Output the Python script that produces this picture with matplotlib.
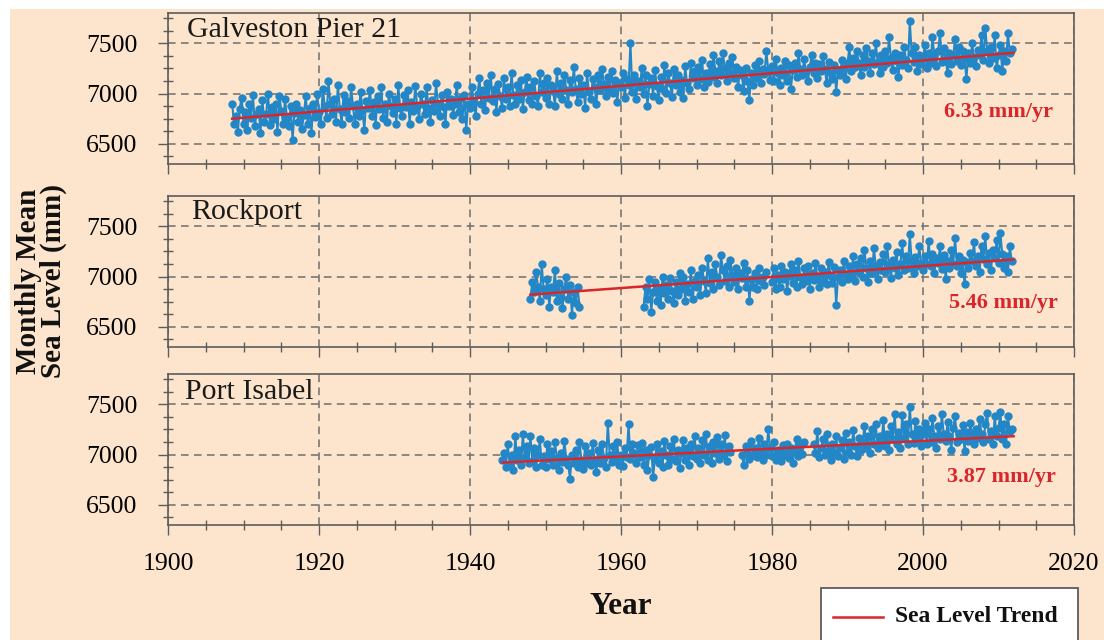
import matplotlib
matplotlib.use("Agg")
import matplotlib.pyplot as plt
from matplotlib.ticker import MultipleLocator
from matplotlib.patches import Rectangle
from matplotlib.lines import Line2D
import numpy as np

plt.rcParams['font.family'] = ['Liberation Serif', 'DejaVu Serif']

# monthly mean sea level (mm) at quarter-year steps
galv_start = 1908.5
galv_sl = [
    6900, 6700,
    6780, 6620, 6850, 6960,
    6700, 6820, 6640, 6900, 6760, 6990, 6680, 6800,
    6850, 6610, 6940, 6720, 6800, 7000, 6690, 6870,
    6750, 6900, 6620, 6980, 6830, 6700, 6950, 6760,
    6680, 6880, 6540, 6810, 6900, 6720, 6840, 6650,
    6790, 6980, 6700, 6860, 6610, 6900, 6770, 7000,
    6820, 6700, 7050, 6880, 6760, 7120, 6900, 6800,
    6950, 6720, 7080, 6850, 6700, 6990, 6820, 6930,
    6760, 7060, 6880, 6700, 6900, 6780, 7020, 6840,
    6640, 6930, 6860, 7040, 6780, 6920, 6690, 6980,
    6850, 7060, 6760, 6900, 6720, 7000, 6880, 6810,
    6950, 6700, 7080, 6860, 6780, 6990, 6870, 7040,
    6700, 6920, 6830, 7070, 6880, 6750, 7000, 6900,
    6800, 7060, 6860, 6720, 6940, 6830, 7100, 6900,
    6780, 6990, 6870, 6700, 7020, 6880, 6950, 6790,
    6900, 7080, 6820, 6960, 6750, 6990, 6640, 6900,
    6860, 7060, 6920, 6780, 7000, 7150, 6900, 7040,
    6840, 7100, 6960, 7180, 6930, 7050, 6820, 7090,
    6980, 6860, 7150, 6950, 7060, 6880, 7200, 6990,
    6900, 7080, 6950, 7130, 6850, 7020, 7160, 6940,
    7060, 6900, 7120, 6980, 6880, 7200, 7020, 7100,
    6960, 7150, 6900, 7080, 7030, 6880, 7220, 7000,
    7100, 6950, 7180, 7040, 6900, 7130, 7020, 7260,
    7050, 6920, 7150, 7000, 7080, 6860, 7200, 7020,
    6950, 7140, 7060, 6900, 7180, 7040, 7240, 7090,
    6980, 7160, 7040, 7220, 7010, 7130, 6920, 7100,
    7060, 7200, 6960, 7140, 7080, 7500, 7020, 7180,
    6950, 7120, 7060, 7250, 7000, 7180, 6880, 7090,
    7150, 6980, 7230, 7070, 6940, 7160, 7050, 7280,
    7010, 7200, 7100, 6970, 7240, 7080, 7180, 7020,
    7130, 6960, 7270, 7100, 7050, 7300, 7150, 7220,
    7080, 7260, 7140, 7330, 7060, 7200, 7110, 7290,
    7160, 7380, 7220, 7100, 7320, 7180, 7400, 7250,
    7120, 7300, 7200, 7360, 7150, 7260, 7060, 7230,
    7180, 7030, 7250, 7120, 6940, 7200, 7080, 7280,
    7150, 7320, 7100, 7240, 7190, 7420, 7230, 7130,
    7270, 7120, 7340, 7200, 7080, 7250, 7180, 7320,
    7120, 7280, 7050, 7230, 7300, 7160, 7400, 7240,
    7180, 7340, 7220, 7120, 7260, 7380, 7200, 7300,
    7150, 7290, 7220, 7370, 7240, 7100, 7310, 7200,
    7140, 7280, 7020, 7230, 7180, 7330, 7250, 7140,
    7300, 7460, 7220, 7350, 7260, 7420, 7300, 7180,
    7380, 7260, 7450, 7320, 7200, 7400, 7290, 7500,
    7310, 7200, 7380, 7260, 7420, 7300, 7560, 7350,
    7230, 7400, 7320, 7160, 7380, 7280, 7460, 7330,
    7250, 7720, 7400, 7310, 7460, 7220, 7380, 7290,
    7350, 7480, 7250, 7400, 7300, 7560, 7380, 7270,
    7420, 7600, 7310, 7450, 7340, 7200, 7400, 7290,
    7380, 7540, 7320, 7460, 7280, 7420, 7350, 7140,
    7400, 7300, 7500, 7360, 7270, 7430, 7380, 7580,
    7330, 7650, 7420, 7300, 7460, 7350, 7580, 7250,
    7380, 7480, 7220, 7420, 7320, 7600, 7400, 7440,
]

rock1_start = 1948.0
rock1_sl = [
    6780, 6950, 6850, 7050, 6900, 6760, 7120, 6880,
    6820, 6980, 6700, 6900, 6850, 7060, 6760, 6940,
    6800, 6690, 6880, 7000, 6780, 6920, 6620, 6850,
    6740, 6900, 6700,
]

rock2_start = 1963.0
rock2_sl = [
    6700, 6900, 6780, 6980, 6650, 6850, 6950, 6760,
    6880, 6720, 7000, 6840, 6920, 6780, 6990, 6860,
    6740, 6950, 6820, 7040, 6880, 7000, 6760, 6930,
    6850, 7060, 6780, 6960, 6900, 7020, 6820, 7080,
    6960, 6840, 7180, 6940, 7050, 6880, 7120, 7000,
    6920, 7210, 7060, 6960, 7100, 6900, 7160, 7020,
    6950, 7080, 6880, 7040, 6990, 7130, 6900, 7060,
    6760, 6980, 6900, 7040, 6880, 7080, 6960, 7000,
    6920, 7050,
]

rock3_start = 1980.0
rock3_sl = [
    6950, 7080, 6880, 7020, 6900, 7100, 6980, 7050,
    6860, 7010, 7120, 6940, 7060, 6900, 7150, 7000,
    6930, 7080, 6960, 7100, 6880, 7040, 6970, 7130,
    7000, 6900, 7080, 6950, 7050, 6930, 7140, 7010,
    6940, 7090, 6720, 7000, 7060, 6950, 7150, 7020,
    6980, 7100, 7020, 7200, 6960, 7120, 7050, 7180,
    7000, 7260, 7080, 6950, 7150, 7040, 7280, 7100,
    6980, 7140, 7060, 7220, 7050, 7300, 7120, 6990,
    7160, 7080, 7240, 7020, 7120, 7330, 7060, 7200,
    7080, 7420, 7150, 7040, 7190, 7100, 7300, 7130,
    7060, 7200, 7120, 7350, 7100, 7220, 7040, 7180,
    7130, 7300, 7070, 7210, 6980, 7150, 7080, 7260,
    7120, 7380, 7100, 7200, 7040, 7160, 6930, 7140,
    7080, 7230, 7150, 7340, 7100, 7200, 7050, 7300,
    7170, 7400, 7120, 7230, 7060, 7260, 7180, 7360,
    7130, 7430, 7220, 7080, 7200, 7050, 7300, 7150,
]

pi1_start = 1944.25
pi1_sl = [
    6950, 7020, 6880,
    7100, 6900, 7000, 6850, 7180, 6950, 7050, 6900,
    7200, 6980, 7080, 6920, 7180, 6940, 7060, 6880,
    7000, 7150, 6900, 6990, 6880, 7100, 6960, 7040,
    6900, 7120, 6970, 6850, 7020, 6930, 7130, 6960,
    6900, 6760, 7000, 6920, 7050, 6880, 7120, 6950,
    6860, 7080, 6920, 7020, 6900, 7110, 6950, 6830,
    7050, 6920, 7100, 6970, 6880, 7310, 7000, 6930,
    7080, 6950, 7120, 6900, 7000, 6890, 7060, 6980,
    7300, 6960, 7100, 7020, 6920, 7090, 6980, 7110,
    6900, 7050, 6850, 7000, 7070, 6780, 6960, 7100,
    6920, 7040, 6880, 7130, 7000, 6900, 7080, 6960,
    7150, 6940, 7050, 6870, 7020, 7140, 6950, 7060,
    6900, 7100, 6990, 7180, 6960, 7060, 6920, 7140,
    7000, 7200, 6950, 7080, 6920, 7120, 7020, 7170,
    6960, 7100, 7000, 7190, 6940, 7080, 7030,
]

pi2_start = 1976.0
pi2_sl = [
    7000, 6900, 7080, 7020, 6960, 7130, 7000, 7060,
    6980, 7160, 7040, 6950, 7100, 7000, 7250, 7060,
    6990, 7120, 6950, 7050, 7010, 6940, 7090, 7000,
    7100, 6970, 7060, 6920, 7040, 7150, 6990, 7080,
    7010, 7120,
]

pi3_start = 1985.5
pi3_sl = [
    7100, 7020,
    7230, 6980, 7060, 7150, 7000, 7200, 7050, 6950,
    7100, 7020, 7180, 6990, 7060, 7140, 6960, 7210,
    7030, 7120, 7000, 7240, 7080, 6990, 7160, 7050,
    7120, 7280, 7060, 7180, 7020, 7250, 7100, 7300,
    7060, 7180, 7120, 7340, 7080, 7200, 7050, 7280,
    7150, 7400, 7100, 7220, 7060, 7390, 7160, 7300,
    7100, 7470, 7200, 7110, 7330, 7150, 7250, 7080,
    7200, 7310, 7100, 7250, 7120, 7360, 7180, 7060,
    7280, 7150, 7400, 7200, 7130, 7320, 7180, 7050,
    7260, 7380, 7120, 7210, 7150, 7290, 7040, 7220,
    7130, 7310, 7200, 7100, 7250, 7160, 7350, 7200,
    7120, 7300, 7410, 7150, 7230, 7100, 7380, 7180,
    7260, 7420, 7150, 7300, 7100, 7380, 7230, 7250,
]

# linear trends (year, mm)
galv_trend_x = [1908.5, 2012.0]
galv_trend_y = [6750, 7405]
rock_trend_x = [1948.0, 2012.0]
rock_trend_y = [6820, 7170]
pi_trend_x = [1944.3, 2012.0]
pi_trend_y = [6920, 7182]

stations = ["Galveston Pier 21", "Rockport", "Port Isabel"]
rates = ["6.33 mm/yr", "5.46 mm/yr", "3.87 mm/yr"]

BG = '#fce5cc'
BLUE = '#2386c6'
RED = '#d9262a'
FRAME = '#5c5c5c'
GRID = '#6e6e6e'

fig = plt.figure(figsize=(11.04, 6.4), dpi=100, facecolor='white')
fig.add_artist(Rectangle((10 / 1104, 0), 1 - 10 / 1104, 1 - 9 / 640,
                         transform=fig.transFigure, facecolor=BG,
                         edgecolor='none', zorder=-10))

W, H = 1104, 640
left, right = 168, 1074
tops = [13, 196, 374]
ph = 151

segments = [
    [(galv_start, galv_sl)],
    [(rock1_start, rock1_sl), (rock2_start, rock2_sl), (rock3_start, rock3_sl)],
    [(pi1_start, pi1_sl), (pi2_start, pi2_sl), (pi3_start, pi3_sl)],
]
trends = [(galv_trend_x, galv_trend_y), (rock_trend_x, rock_trend_y),
          (pi_trend_x, pi_trend_y)]
title_pos = [(0.021, 0.887), (0.025, 0.894), (0.019, 0.88)]
rate_pos = [(0.977, 0.344), (0.982, 0.29), (0.98, 0.318)]

for i in range(3):
    ax = fig.add_axes([left / W, 1 - (tops[i] + ph) / H,
                       (right - left) / W, ph / H])
    ax.set_facecolor(BG)
    for start, vals in segments[i]:
        yrs = start + 0.25 * np.arange(len(vals))
        ax.plot(yrs, vals, color=BLUE, lw=1.5, marker='o', ms=5,
                mec=BLUE, mfc=BLUE, zorder=3)
    tx, ty = trends[i]
    ax.plot(tx, ty, color=RED, lw=1.8, zorder=4)

    ax.set_xlim(1900, 2020)
    ax.set_ylim(6300, 7800)
    ax.set_xticks(np.arange(1900, 2021, 20))
    ax.set_yticks([6500, 7000, 7500])
    ax.xaxis.set_minor_locator(MultipleLocator(5))
    ax.yaxis.set_minor_locator(MultipleLocator(125))
    ax.tick_params(which='major', direction='out', length=7, width=1,
                   color=FRAME, labelsize=18.5, pad=4)
    ax.tick_params(which='minor', direction='inout', length=7.5, width=1,
                   color=FRAME)
    ax.tick_params(axis='y', which='major', pad=15)
    ax.grid(True, which='major', linestyle=(0, (5, 3.5)), color=GRID, lw=1.1)
    ax.set_axisbelow(True)
    for s in ax.spines.values():
        s.set_color(FRAME)
        s.set_linewidth(1.2)
    if i < 2:
        ax.tick_params(axis='x', labelbottom=False)
    else:
        ax.tick_params(axis='x', pad=13)

    ax.text(title_pos[i][0], title_pos[i][1], stations[i], transform=ax.transAxes,
            fontsize=21.5, ha='left', va='center', color='#1a1a1a')
    ax.text(rate_pos[i][0], rate_pos[i][1], rates[i], transform=ax.transAxes,
            fontsize=16, fontweight='bold', ha='right', va='center', color=RED)

fig.text(41 / W, 1 - 281 / H, "Monthly Mean\nSea Level (mm)", rotation=90,
         fontsize=21, fontweight='bold', ha='center', va='center',
         linespacing=0.92, color='#111111')
fig.text(621 / W, 1 - 607 / H, "Year", fontsize=22.5, fontweight='bold',
         ha='center', va='center', color='#111111')

# legend box, cut off by the bottom edge as in the original
fig.add_artist(Rectangle((821 / W, -0.05), (1078 - 821) / W, 0.05 + (640 - 588) / H,
                         transform=fig.transFigure, facecolor='white',
                         edgecolor=FRAME, lw=1.3, zorder=5))
fig.add_artist(Line2D([833 / W, 883 / W], [1 - 617 / H, 1 - 617 / H],
                      transform=fig.transFigure, color=RED, lw=1.8, zorder=6))
fig.text(895 / W, 1 - 617 / H, "Sea Level Trend", fontsize=17,
         fontweight='bold', ha='left', va='center', color='#111111', zorder=6)

fig.savefig('out.png', dpi=100, facecolor=fig.get_facecolor())
